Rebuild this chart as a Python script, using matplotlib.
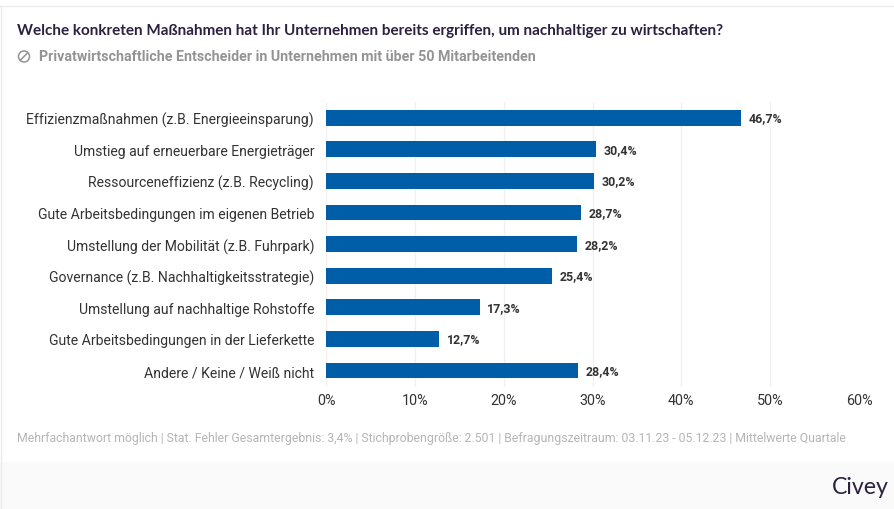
import matplotlib
matplotlib.use("Agg")
import matplotlib.pyplot as plt
from matplotlib.patches import Rectangle, Circle
from matplotlib.lines import Line2D

categories = [
    "Effizienzmaßnahmen (z.B. Energieeinsparung)",
    "Umstieg auf erneuerbare Energieträger",
    "Ressourceneffizienz (z.B. Recycling)",
    "Gute Arbeitsbedingungen im eigenen Betrieb",
    "Umstellung der Mobilität (z.B. Fuhrpark)",
    "Governance (z.B. Nachhaltigkeitsstrategie)",
    "Umstellung auf nachhaltige Rohstoffe",
    "Gute Arbeitsbedingungen in der Lieferkette",
    "Andere / Keine / Weiß nicht",
]
values = [46.7, 30.4, 30.2, 28.7, 28.2, 25.4, 17.3, 12.7, 28.4]
ticks = [0, 10, 20, 30, 40, 50, 60]
title = "Welche konkreten Maßnahmen hat Ihr Unternehmen bereits ergriffen, um nachhaltiger zu wirtschaften?"
subtitle = "Privatwirtschaftliche Entscheider in Unternehmen mit über 50 Mitarbeitenden"
footnote = ("Mehrfachantwort möglich | Stat. Fehler Gesamtergebnis: 3,4% | Stichprobengröße: 2.501 | "
            "Befragungszeitraum: 03.11.23 - 05.12.23 | Mittelwerte Quartale")

W, H = 894, 510
plt.rcParams["font.family"] = ["Roboto", "DejaVu Sans"]
fig = plt.figure(figsize=(W / 100, H / 100), dpi=100, facecolor="white")

def fx(p): return p / W
def fy(p): return 1 - p / H

# page furniture
fig.patches.append(Rectangle((0, 0), 1, fy(463), transform=fig.transFigure, fc="#fafafa", ec="none"))
fig.add_artist(Line2D([0, 1], [fy(6.5)] * 2, color="#ececec", lw=1))
fig.add_artist(Line2D([fx(0.7)] * 2, [fy(6.5), 0], color="#ececec", lw=1))

# plot area: x 0..60 -> 326..859 px; bands centred 118..371 px
ax = fig.add_axes([fx(326), fy(388), (859 - 326) / W, (388 - 103) / H])
ax.set_xlim(0, 60)
y = list(range(len(categories)))
ax.set_ylim(8.52, -0.5)
ax.patch.set_alpha(0)
ax.barh(y, values, height=0.5, color="#005ea8", zorder=3)
ax.set_xticks(ticks)
ax.set_xticklabels([f"{t}%" for t in ticks], fontsize=10.4, color="#333333")
ax.set_yticks(y)
ax.set_yticklabels(categories, fontsize=10.12, color="#333333")
ax.tick_params(axis="both", length=0)
ax.tick_params(axis="x", pad=4.3)
ax.tick_params(axis="y", pad=8.6)
ax.grid(axis="x", color="#f0f0f0", lw=1, zorder=0)
for s in ax.spines.values():
    s.set_visible(False)
for yi, v in zip(y, values):
    ax.annotate(f"{v:.1f}%".replace(".", ","), (v, yi), xytext=(5.5, 0),
                textcoords="offset points", va="center", ha="left",
                fontsize=8.9, fontweight="bold", color="#333333")

# header
fig.text(fx(17), fy(31.5), title, fontsize=11, fontweight="bold", color="#2d2040",
         family=["Lato", "DejaVu Sans"], va="center", ha="left")
fig.text(fx(39), fy(57), subtitle, fontsize=10.22, fontweight="bold", color="#949494",
         va="center", ha="left")
# icon next to the subtitle, drawn in inches so the circle stays round
icon = fig.dpi_scale_trans
fig.add_artist(Circle((24 / 100, (H - 57.5) / 100), 0.055, transform=icon, fc="none", ec="#949494", lw=1.1))
fig.add_artist(Line2D([20.5 / 100, 27.5 / 100], [(H - 61) / 100, (H - 54) / 100], transform=icon,
                      color="#949494", lw=1.1))

fig.text(fx(17), fy(438.5), footnote, fontsize=8.83, color="#b5b5b5", va="center", ha="left")
fig.text(fx(888.5), fy(487), "Civey", fontsize=16.7, color="#2d2040", family=["Lato", "DejaVu Sans"],
         va="center", ha="right")

fig.savefig("out.png", dpi=100)
